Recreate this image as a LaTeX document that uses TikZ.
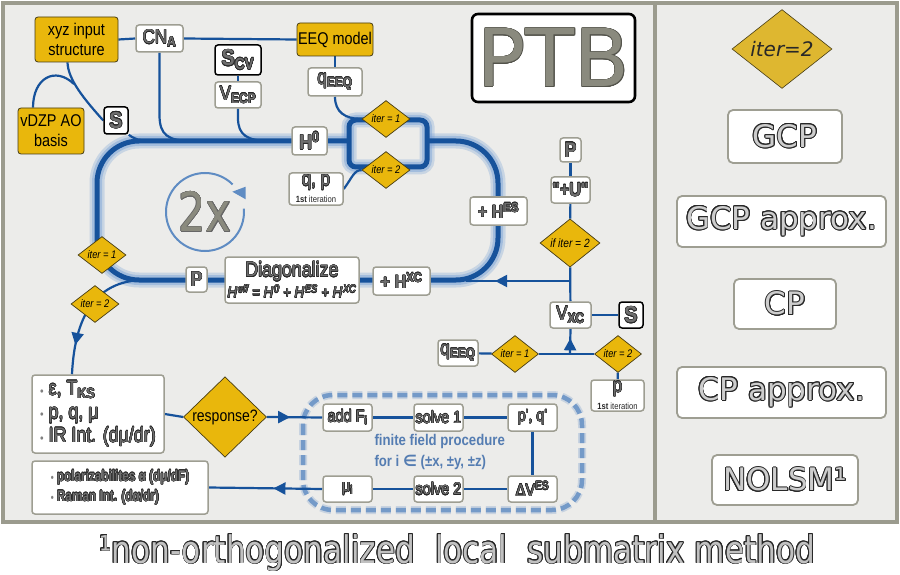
\documentclass[tikz,border=0pt]{standalone}
\usepackage{fontspec}
\setmainfont{Liberation Sans}
\newfontfamily\cf[FakeStretch=0.85]{Liberation Sans}
\newfontfamily\cfn[FakeStretch=0.76]{Liberation Sans}
\newfontfamily\dvs{DejaVu Sans}
\newfontfamily\dvc[FakeStretch=0.8]{DejaVu Sans}
\newfontfamily\dvf[FakeStretch=0.82]{DejaVu Sans}
\usepackage[copies]{contour}
\usetikzlibrary{shapes.geometric,arrows.meta,decorations.markings,calc}

\definecolor{bgc}{RGB}{236,236,234}
\definecolor{framec}{RGB}{155,155,142}
\definecolor{gold}{RGB}{233,183,12}
\definecolor{goldr}{RGB}{222,183,48}
\definecolor{ydark}{RGB}{70,60,20}
\definecolor{flow}{RGB}{22,82,155}
\definecolor{glowc}{RGB}{120,160,214}
\definecolor{boxc}{RGB}{158,158,146}
\definecolor{txt}{RGB}{110,110,110}
\definecolor{dark}{RGB}{40,40,40}
\definecolor{ffblue}{RGB}{85,125,178}
\definecolor{circc}{RGB}{95,140,195}
\definecolor{lite}{RGB}{205,205,205}
\definecolor{ptbc}{RGB}{138,138,126}

\contourlength{0.4pt}
\newcommand\gl[1]{\contour{dark}{#1}}
\newcommand\fsz[1]{\fontsize{#1}{#1}\selectfont}
\newcommand\hsup[1]{H\kern0.8pt\textsuperscript{#1}}
\newcommand\bul[1]{{\color{gray}\fontsize{#1}{#1}\selectfont•}\ }

\pgfdeclarelayer{back}
\pgfdeclarelayer{wires}
\pgfsetlayers{back,wires,main}

\begin{document}
\begin{tikzpicture}[x=1pt,y=-1pt,
  wh/.style 2 args={minimum width=#1pt,minimum height=#2pt},
  wbox/.style={draw=boxc,line width=1.5pt,fill=white,rounded corners=3pt,inner sep=0pt,text=txt,font=\cf\fsz{20}},
  kbox/.style={wbox,draw=black,font=\cf\bfseries\fsz{23}},
  ybox/.style={draw=ydark,line width=0.8pt,fill=gold,rounded corners=3pt,inner sep=0pt,align=center,font=\cf\fontsize{17}{20}\selectfont},
  dia/.style={diamond,draw=ydark,line width=0.7pt,fill=gold,inner sep=0pt,font=\cf\itshape\fsz{11}},
  rbox/.style={draw=boxc,line width=1.8pt,fill=white,rounded corners=5pt,inner sep=0pt,text=lite,font=\dvs\fsz{31}},
  flw/.style={draw=flow,line width=2.2pt},
  arrowat/.style={postaction={decorate,decoration={markings,mark=at position #1 with {\arrow{Triangle[length=12pt,width=12pt]}}}}},
  glowline/.style={draw=glowc,line width=15pt,opacity=0.3},
  glowline2/.style={draw=glowc,line width=10pt,opacity=0.45},
  loopline/.style={draw=flow,line width=5pt}
]
\useasboundingbox (0,0) rectangle (900,575);

% panels
\begin{pgfonlayer}{back}
\fill[white] (0,0) rectangle (900,575);
\filldraw[fill=bgc,draw=framec,line width=3.5pt] (3,3) rectangle (655,522);
\filldraw[fill=bgc,draw=framec,line width=3.5pt] (655,3) rectangle (897,522);
\end{pgfonlayer}

% ---------- nodes of the SCF part ----------
\node[ybox,wh={83}{45}] (xyz) at (76.5,39.5) {xyz input\\structure};
\node[ybox,wh={66}{46}] (vdzp) at (51,131) {vDZP AO\\basis};
\node[ybox,wh={76}{33}] (eeq) at (335,39.5) {EEQ model};

\node[wbox,wh={47}{27},font=\cf\fsz{20}] (cna) at (159.5,38.5) {\gl{CN\textsubscript{\bfseries A}}};
\node[kbox,wh={46}{30}] (scv) at (238,60) {\contourlength{0.6pt}\gl{S\textsubscript{CV}}};
\node[wbox,wh={46}{26}] (vecp) at (238,95) {\gl{V\textsubscript{\bfseries ECP}}};
\node[wbox,wh={54}{28}] (qeeq) at (335,82) {\gl{q\textsubscript{\bfseries EEQ}}};
\node[kbox,wh={24}{27}] (sL) at (116,120.5) {\contourlength{0.6pt}\gl{S}};
\node[wbox,wh={35}{28},font=\cf\bfseries\fsz{21}] (h0) at (309.5,141) {\gl{H\textsuperscript{0}}};
\node[wbox,wh={54}{32},align=center] (qp) at (316,189)
  {{\fsz{20}\gl{q, p}}\\[-3pt]{\fsz{9}\color{dark}\textbf{1st} iteration}};
\node[dia,wh={48}{33}] (d1) at (386,119) {iter = 1};
\node[dia,wh={48}{33}] (d2) at (386,170) {iter = 2};
\node[wbox,wh={57}{28},font=\cf\bfseries\fsz{19}] (hes) at (498.5,211) {\gl{+ H\textsuperscript{ES}}};
\node[wbox,wh={57}{28},font=\cf\bfseries\fsz{19}] (hxc) at (401.5,281) {\gl{+ H\textsuperscript{XC}}};
\node[wbox,wh={134}{46},align=center] (diag) at (292,280)
  {{\fsz{21}\gl{Diagonalize}}\\[1pt]{\itshape\fsz{15.5}\gl{\hsup{eff} = \hsup{0} + \hsup{ES} + \hsup{XC}}}};
\node[wbox,wh={21}{25},font=\cf\bfseries\fsz{21}] (pL) at (196.5,279.5) {\gl{P}};
\node[dia,wh={48}{33}] (dL1) at (102,255) {iter = 1};
\node[dia,wh={48}{35}] (dL2) at (95,304) {iter = 2};

% ---------- right column of the SCF part ----------
\node[wbox,wh={21}{24},font=\cf\bfseries\fsz{21}] (pR) at (570.5,150) {\gl{P}};
\node[wbox,wh={39}{26},font=\cf\bfseries\fsz{19}] (plu) at (570.5,190) {\gl{"+U"}};
\node[dia,wh={60}{43},font=\cf\itshape\fsz{12}] (ifit) at (570,243) {if iter = 2};
\node[wbox,wh={41}{26}] (vxc) at (570.5,315) {\gl{V\textsubscript{\bfseries XC}}};
\node[kbox,wh={24}{26}] (sR) at (631,315) {\contourlength{0.6pt}\gl{S}};
\node[wbox,wh={40}{26}] (qeeq2) at (458,353) {\gl{q\textsubscript{\bfseries EEQ}}};
\node[dia,wh={47}{35}] (dR1) at (515,354) {iter = 1};
\node[dia,wh={47}{35}] (dR2) at (618,354) {iter = 2};
\node[wbox,wh={53}{31},align=center] (p1) at (617.5,395.5)
  {{\fsz{20}\gl{p}}\\[-3pt]{\fsz{9}\color{dark}\textbf{1st} iteration}};
\coordinate (jx) at (570,281);
\coordinate (jl) at (466,281);
\coordinate (jv) at (570,354);

% ---------- properties and response ----------
\node[wbox,wh={132}{78},align=left,font=\cf\fontsize{21}{23.5}\selectfont] (out1) at (98,414)
  {\bul{12}\gl{ε, T\textsubscript{\bfseries KS}}\\
   \bul{12}\gl{p, q, μ}\\
   \bul{12}\gl{IR Int. (dμ/dr)}};
\node[dia,wh={83}{62},font=\cf\fsz{16.5}] (resp) at (225,417) {response?};
\node[wbox,wh={49}{27},font=\cf\fsz{17}] (addf) at (347.5,417.5) {\gl{add F\textsubscript{i}}};
\node[wbox,wh={49}{27},font=\cf\fsz{17}] (solve1) at (438.5,417.5) {\gl{solve 1}};
\node[wbox,wh={49}{27},font=\cf\fsz{17}] (pq) at (532.5,417.5) {\gl{p', q'}};
\node[wbox,wh={49}{26},font=\cf\fsz{17}] (dves) at (532.5,489) {\gl{ΔV\textsuperscript{ES}}};
\node[wbox,wh={49}{26},font=\cf\fsz{17}] (solve2) at (438.5,489) {\gl{solve 2}};
\node[wbox,wh={49}{26},font=\cf\fsz{17}] (mui) at (347.5,489) {\gl{μ\textsubscript{i}}};
\node[wbox,wh={176}{53},align=left,font=\cfn\bfseries\fontsize{15.5}{20}\selectfont] (out2) at (120,487.5)
  {\bul{11}\gl{polarizabilites α (dμ/dF)}\\
   \bul{11}\gl{Raman Int. (dα/dr)}};
\node[anchor=west,align=left,text=ffblue,font=\cf\bfseries\fontsize{15.5}{21}\selectfont] (ffp) at (371,452)
  {finite field procedure\\for i {\dvs ∈} (±x, ±y, ±z)};

% ---------- iteration symbol ----------
\coordinate (cyc) at (205,212);
\node[text=ptbc,font=\dvc\fsz{54}] (twox) at (cyc) {\contourlength{0.5pt}\contour{gray!80!black}{2x}};

% ---------- right panel ----------
\node[diamond,draw=ydark,line width=0.6pt,fill=goldr,inner sep=0pt,wh={100}{76},font=\dvs\itshape\fsz{20},text=dark] (rd) at (782,49) {iter=2};
\node[rbox,wh={114}{53}] (gcp) at (785,136.5) {\contourlength{0.9pt}\contour{dark}{GCP}};
\node[rbox,wh={209}{51}] (gcpa) at (781.5,221.5) {\contourlength{0.9pt}\contour{dark}{GCP approx.}};
\node[rbox,wh={102}{50}] (cp) at (785,304) {\contourlength{0.9pt}\contour{dark}{CP}};
\node[rbox,wh={209}{51}] (cpa) at (781.5,392.5) {\contourlength{0.9pt}\contour{dark}{CP approx.}};
\node[rbox,wh={146}{50}] (nolsm) at (785,480) {\contourlength{0.9pt}\contour{dark}{NOLSM¹}};

\node[draw=black,line width=2.6pt,fill=white,rounded corners=6pt,inner sep=0pt,wh={163}{88},text=ptbc,font=\dvs\fsz{80}] (ptb) at (553.5,58)
  {\contourlength{0.5pt}\contour{ptbc!60!black}{PTB}};

\node[text=lite!85!gray,font=\dvf\fsz{38}] (foot) at (457,553)
  {\contourlength{0.8pt}\contour{dark}{¹non-orthogonalized\ \ local\ \ submatrix method}};

% ---------- connectors ----------
\begin{pgfonlayer}{wires}
% finite field frame
\draw[circc,line width=8pt,opacity=0.25,dash pattern=on 10pt off 5pt,rounded corners=30pt] (303,395) rectangle (582,510);
\draw[circc,line width=4.5pt,opacity=0.8,dash pattern=on 10pt off 5pt,rounded corners=30pt] (303,395) rectangle (582,510);

% SCF loop glow
\draw[glowline,rounded corners=42pt] (349,141) -- (97,141) -- (97,280) -- (498,280) -- (498,141) -- (427,141);
\draw[glowline,rounded corners=7pt] (349,120) rectangle (427,167);
\draw[glowline2,rounded corners=42pt] (349,141) -- (97,141) -- (97,280) -- (498,280) -- (498,141) -- (427,141);
\draw[glowline2,rounded corners=7pt] (349,120) rectangle (427,167);

% inputs
\draw[flw] (xyz.east) -- (cna.west);
\draw[flw] (cna.east) -- (eeq.west);
\draw[flw] ($(xyz.south)+(-9,0)$) .. controls (68,80) and (85,100) .. (sL.west);
\draw[flw] ($(vdzp.north)+(-18,0)$) .. controls (33,78) and (55,66) .. (74,84);
\draw[flw] (sL.south east) .. controls +(8,6) and +(-15,0) .. (158,141);
\draw[flw] (cna.south) -- (159.5,115) .. controls (159.5,135) and (168,141) .. (192,141);
\draw[flw] (scv) -- (vecp);
\draw[flw] (vecp.south) -- (238,118) .. controls (238,135) and (247,141) .. (270,141);
\draw[flw] (eeq) -- (qeeq);
\draw[flw] (qeeq.south) .. controls (335,112) and (345,119) .. (d1.west);
\draw[flw] (qp.east) .. controls (352,178) and (354,170) .. (d2.west);

% leaving the loop
\draw[flw,arrowat=0.78] (145,280) .. controls (100,280) and (75,310) .. ($(out1.north)+(-26,0)$);

% exchange-correlation column
\draw[flw] (pR) -- (plu);
\draw[flw] (plu) -- (ifit);
\draw[flw] (ifit) -- (vxc);
\draw[flw,arrowat=0.72] (jx) -- (jl);
\draw[flw] (vxc) -- (sR);
\draw[flw] (qeeq2) -- (dR1);
\draw[flw] (dR1) -- (dR2);
\draw[flw] (dR2) -- (p1);
\draw[flw,arrowat=0.62] (jv) -- (vxc.south);

% response part
\draw[flw] (out1.east) -- (resp.west);
\draw[flw,arrowat=0.42] (resp.east) -- (addf.west);
\draw[flw] (addf) -- (solve1);
\draw[flw] (solve1) -- (pq);
\draw[flw] (pq) -- (dves);
\draw[flw] (dves) -- (solve2);
\draw[flw] (solve2) -- (mui);
\draw[flw,arrowat=0.43] (mui.west) -- (out2.east);

% SCF loop
\draw[loopline,rounded corners=42pt] (349,141) -- (97,141) -- (97,280) -- (498,280) -- (498,141) -- (427,141);
\draw[loopline,rounded corners=7pt] (349,120) rectangle (427,167);

% iteration arrow
\draw[circc,line width=2pt] (cyc) ++(-45:39) arc[start angle=-45,end angle=-365,radius=39];
\fill[circc] ($(cyc)+(27.3,-20.3)$) -- ($(cyc)+(40.7,-25.3)$) -- ($(cyc)+(40.7,-12.7)$) -- cycle;
\end{pgfonlayer}
\end{tikzpicture}
\end{document}
